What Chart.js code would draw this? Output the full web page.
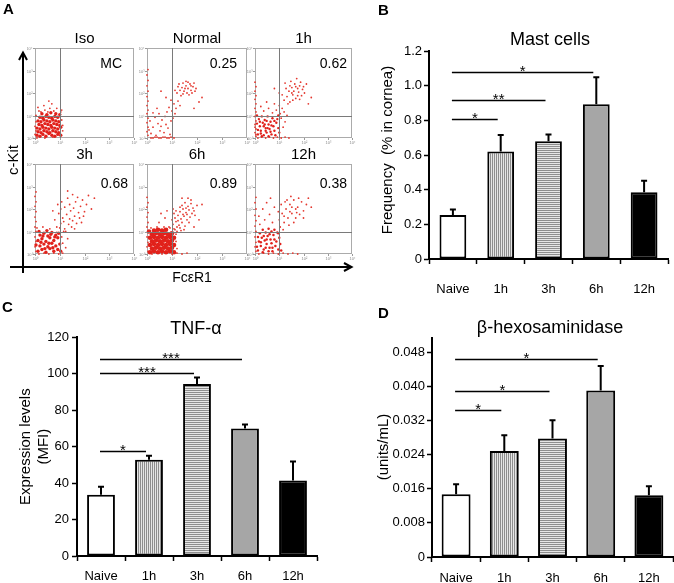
<!DOCTYPE html>
<html>
<head>
<meta charset="utf-8">
<title>Mast cells figure</title>
<script src="https://cdn.jsdelivr.net/npm/chart.js@4.4.1/dist/chart.umd.min.js"></script>
<style>
html,body{margin:0;padding:0;background:#fff;}
#fig{position:relative;width:674px;height:583px;overflow:hidden;background:#fff;}
#fig canvas{position:absolute;}
</style>
</head>
<body>
<div id="fig"></div>
<script>
// ================= DATA =================
// Bar panels
const categories = ['Naive', '1h', '3h', '6h', '12h'];

const mastTitle = 'Mast cells';
const mastYTitle = ['Frequency  (% in cornea)'];
const mastValues = [0.254, 0.62, 0.68, 0.893, 0.385];
const mastErrors = [0.285, 0.715, 0.718, 1.048, 0.452];
const mastTicks = [0, 0.2, 0.4, 0.6, 0.8, 1.0, 1.2];
const mastSig = [[0, 1, 0.81, '*'], [0, 2, 0.915, '**'], [0, 3, 1.08, '*']];

const tnfTitle = 'TNF-α';
const tnfYTitle = ['Expression levels', '(MFI)'];
const tnfValues = [33.6, 52.8, 94.3, 69.8, 41.4];
const tnfErrors = [38.0, 54.9, 97.8, 72.0, 51.8];
const tnfTicks = [0, 20, 40, 60, 80, 100, 120];
const tnfSig = [[0, 1, 57.8, '*'], [0, 2, 100.2, '***'], [0, 3, 107.9, '***']];

const hexTitle = 'β-hexosaminidase';
const hexYTitle = ['(units/mL)'];
const hexValues = [0.0147, 0.0249, 0.0278, 0.0391, 0.0145];
const hexErrors = [0.0171, 0.0286, 0.0321, 0.0448, 0.0166];
const hexTicks = [0, 0.008, 0.016, 0.024, 0.032, 0.040, 0.048];
const hexSig = [[0, 1, 0.0346, '*'], [0, 2, 0.0390, '*'], [0, 3, 0.0465, '*']];

// Flow cytometry panels (FcεR1 vs c-Kit, log decades mapped to 0..100)
const flowTitles = ['Iso', 'Normal', '1h', '3h', '6h', '12h'];
const flowCorners = ['MC', '0.25', '0.62', '0.68', '0.89', '0.38'];
const flowTicks = [0, 25, 50, 75, 100];
const flowTickLabels = ['10⁰', '10¹', '10²', '10³', '10⁴'];
const flowGate = 25;
const axisLabelY = 'c-Kit';
const axisLabelX = 'FcεR1';
const panelLetters = ['A', 'B', 'C', 'D'];

const isoCore = [[2,3],[5,2],[8,4],[11,2],[14,5],[17,3],[20,2],[23,4],[26,3],[3,7],[6,6],[9,8],[12,7],[15,6],[18,8],[21,7],[24,6],[2,11],[5,10],[8,12],[11,11],[14,10],[17,12],[20,11],[23,10],[26,12],[4,15],[7,14],[10,16],[13,15],[16,14],[19,16],[22,15],[25,14],[3,19],[6,18],[9,20],[12,19],[15,18],[18,20],[21,19],[24,18],[5,23],[8,22],[11,24],[14,23],[17,22],[20,24],[23,23],[7,27],[12,26],[16,28],[21,27],[25,26]];
const isoDots = [[4,30],[10,31],[15,33],[19,30],[26,29],[27,20],[28,14],[1,18],[1,25],[1,8],[9,36],[14,41],[17,38],[27,31],[3,34],[22,33],[28,8],[13,29],[6,29],[0,4],[0,13],[2,0],[10,0],[18,1]];

const normalCore = [];
const normalDots = [[1,3],[0,7],[1,12],[0,17],[1,22],[0,27],[1,31],[0,36],[1,41],[0,46],[1,52],[0,58],[1,64],[0,70],[1,76],
  [4,0],[8,1],[12,0],[16,1],[20,0],[24,1],[27,0],[6,0],[14,0],[22,0],[10,1],[18,1],
  [4,5],[9,3],[13,8],[6,12],[17,6],[21,11],[11,16],[3,19],[15,20],[19,15],[8,23],[23,4],[14,13],[24,19],[6,28],[12,27],[18,24],[2,9],[10,33],[20,29],
  [22,34],[25,30],[27,38],[24,42],[29,33],[31,41],[28,27],[33,36],[26,22],
  [30,50],[33,53],[35,56],[37,52],[39,58],[41,55],[43,60],[36,61],[40,50],[44,53],[46,57],[34,47],[38,55],[42,48],[31,57],[47,61],[45,50],[32,60],[39,63],[49,55],[28,53],[36,49],[41,62],[44,58],[48,52],
  [52,40],[55,45],[47,33],[19,45],[14,52]];

const oneCore = [[3,4],[6,8],[9,3],[12,6],[15,10],[5,13],[8,17],[11,11],[14,15],[17,4],[20,8],[4,21],[7,2],[10,20],[13,24],[16,18],[19,13],[22,17],[18,22],[24,11],[2,16],[21,3],[6,5],[9,13],[12,19],[3,9],[16,7],[23,21],[25,6],[7,24],[11,8],[14,2],[20,19],[2,25],[17,14],[5,18],[24,25],[10,15],[13,11]];
const oneDots = [[1,2],[0,6],[1,10],[0,15],[1,19],[0,24],[1,29],[0,33],[1,38],[0,43],[1,47],[0,52],[1,57],[0,62],[1,4],[0,12],
  [3,0],[7,1],[11,0],[15,1],[19,0],[23,1],[27,0],[31,1],[35,0],
  [18,28],[22,31],[14,33],[26,27],[9,30],[20,38],[28,33],[12,40],[25,36],[30,29],[6,35],[27,22],[31,18],[29,12],[33,25],
  [30,42],[33,46],[36,40],[39,48],[42,44],[45,51],[48,47],[35,52],[38,56],[41,60],[44,55],[47,62],[50,57],[32,55],[37,63],[43,66],[46,43],[51,50],[34,38],[40,52],[28,48],[36,58],[44,47],[49,54],[39,42],[42,57],[31,61],[53,60],[46,58],[38,50],
  [58,45],[55,38],[25,50],[20,55]];

const threeCore = [[3,3],[7,5],[11,2],[15,6],[19,3],[23,5],[5,9],[9,11],[13,8],[17,12],[21,9],[3,15],[7,17],[11,14],[15,18],[19,15],[23,18],[5,21],[9,23],[13,20],[17,24],[21,21],[4,25],[12,26],[25,11],[1,10],[26,3],[10,6],[18,7],[6,13],[14,12],[20,19],[8,20],[16,22],[24,23]];
const threeDots = [[1,3],[0,8],[1,14],[0,19],[1,25],[0,30],[1,36],[0,41],[1,47],[0,53],[1,58],[0,64],[1,69],
  [4,0],[9,1],[14,0],[19,1],[24,0],[28,1],
  [28,12],[27,19],[29,25],[2,29],[8,30],[15,28],[25,29],[31,7],[33,17],
  [22,30],[26,34],[30,28],[34,33],[38,37],[28,40],[32,44],[36,48],[40,42],[44,46],[24,45],[30,52],[35,55],[41,58],[46,53],[27,58],[33,62],[38,66],[45,40],[50,47],[20,38],[29,36],[37,30],[42,34],[48,60],[52,55],[31,25],[39,51],[43,63],[26,50],[35,39],[47,35],[54,65],[23,55],[18,48],[40,28],[33,70],[49,42],[22,24],
  [60,62],[57,50]];

const sixCore = [[3,2],[7,3],[11,2],[15,3],[19,2],[23,3],[27,2],[5,6],[9,7],[13,6],[17,7],[21,6],[25,7],[3,10],[7,11],[11,10],[15,11],[19,10],[23,11],[27,10],[5,14],[9,15],[13,14],[17,15],[21,14],[25,15],[3,18],[7,19],[11,18],[15,19],[19,18],[23,19],[27,18],[5,22],[9,23],[13,22],[17,23],[21,22],[25,23],[7,26],[11,27],[15,26],[19,27],[2,25]];
const sixDots = [[1,3],[0,8],[1,13],[0,19],[1,24],[0,30],[1,35],[0,41],[1,46],[0,52],[1,57],[0,63],
  [5,0],[10,1],[15,0],[20,1],[25,0],[30,1],[35,0],[40,1],
  [29,14],[30,6],[29,22],[28,27],[4,29],[10,30],[17,30],[23,29],
  [24,24],[27,28],[30,25],[33,29],[26,33],[29,36],[32,32],[35,35],[38,31],[28,40],[31,43],[34,39],[37,42],[40,38],[33,47],[36,50],[39,46],[42,49],[45,45],[35,54],[38,57],[41,53],[44,56],[30,30],[34,26],[25,38],[40,44],[43,41],[46,51],[36,44],[31,37],[39,51],[27,45],[42,35],[37,27],[47,48],[33,52],[29,48],[44,60],[48,43],[22,30],[35,62],[26,50],[41,62],[50,54],
  [18,40],[14,45],[52,38],[55,55],[20,48],[12,35],[47,30]];

const twelveCore = [[3,4],[6,9],[9,5],[12,11],[15,7],[18,3],[21,9],[24,5],[4,14],[7,18],[10,15],[13,20],[16,16],[19,21],[22,14],[25,18],[5,23],[8,27],[11,24],[14,28],[17,25],[20,27],[23,24],[2,8],[8,2],[14,3],[11,7],[17,12],[20,16],[6,13],[26,11],[9,20],[15,22],[3,19],[12,16],[24,23],[18,7],[27,4]];
const twelveDots = [[1,3],[0,8],[1,13],[0,19],[1,25],[0,31],[1,37],[0,43],[1,50],[0,57],[1,63],
  [4,0],[9,1],[14,0],[19,1],[24,0],[29,1],[34,0],[39,1],[44,0],
  [5,33],[10,38],[15,44],[8,50],[18,35],[12,57],[4,42],[20,52],[16,62],
  [26,30],[30,35],[34,40],[38,45],[42,50],[28,45],[32,50],[36,55],[40,60],[44,52],[46,44],[50,48],[27,55],[33,60],[38,52],[42,40],[48,58],[53,55],[30,42],[36,47],[25,38],[40,35],[45,62],[35,32],[31,58],[50,40],[55,62],[29,27],[37,64],[43,46],
  [58,52],[24,47]];

// ================= SETUP =================
const FONT = '"Liberation Sans", Arial, Helvetica, sans-serif';
Chart.defaults.font.family = FONT;
Chart.defaults.color = '#000';

const fig = document.getElementById('fig');
function addCanvas(l, t, w, h) {
  const c = document.createElement('canvas');
  c.width = w; c.height = h;
  c.style.left = l + 'px'; c.style.top = t + 'px';
  c.style.width = w + 'px'; c.style.height = h + 'px';
  fig.appendChild(c);
  return c;
}

function stripePattern(vertical) {
  const c = document.createElement('canvas');
  c.width = 2; c.height = 2;
  const g = c.getContext('2d');
  g.fillStyle = '#e6e6e6'; g.fillRect(0, 0, 2, 2);
  g.fillStyle = '#8e8e8e';
  if (vertical) g.fillRect(0, 0, 1, 2); else g.fillRect(0, 0, 2, 1);
  return g.createPattern(c, 'repeat');
}
const barFills = ['#ffffff', stripePattern(true), stripePattern(false), '#a6a6a6', '#000000'];

// ---------- plugin: flow panel decorations ----------
const flowDecor = {
  id: 'flowDecor',
  beforeDatasetsDraw(chart, args, o) {
    const {ctx, chartArea: ca, scales: {x, y}} = chart;
    ctx.save();
    ctx.lineWidth = 1;
    ctx.strokeStyle = '#ababab';
    ctx.strokeRect(Math.round(ca.left) + 0.5, Math.round(ca.top) + 0.5, Math.round(ca.width) - 1, Math.round(ca.height) - 1);
    ctx.strokeStyle = '#9a9a9a';
    ctx.fillStyle = '#8a8a8a';
    ctx.font = '4px ' + FONT;
    flowTicks.forEach((v, k) => {
      const px = Math.round(x.getPixelForValue(v)) + 0.5;
      const py = Math.round(y.getPixelForValue(v)) + 0.5;
      ctx.beginPath();
      ctx.moveTo(px, ca.bottom); ctx.lineTo(px, ca.bottom + 2);
      ctx.moveTo(ca.left - 2, py); ctx.lineTo(ca.left, py);
      ctx.stroke();
      ctx.textAlign = 'center'; ctx.textBaseline = 'top';
      ctx.fillText(flowTickLabels[k], px, ca.bottom + 2.5);
      ctx.textAlign = 'right'; ctx.textBaseline = 'middle';
      ctx.fillText(flowTickLabels[k], ca.left - 2.5, py);
    });
    ctx.restore();
  },
  afterDatasetsDraw(chart, args, o) {
    const {ctx, chartArea: ca, scales: {x, y}} = chart;
    ctx.save();
    ctx.lineWidth = 1;
    ctx.strokeStyle = '#7a7a7a';
    const gx = Math.round(x.getPixelForValue(flowGate)) + 0.5;
    const gy = Math.round(y.getPixelForValue(flowGate)) + 0.5;
    ctx.beginPath();
    ctx.moveTo(gx, ca.top); ctx.lineTo(gx, ca.bottom);
    ctx.moveTo(ca.left, gy); ctx.lineTo(ca.right, gy);
    ctx.stroke();
    ctx.fillStyle = '#000';
    ctx.font = '14px ' + FONT;
    ctx.textAlign = 'right'; ctx.textBaseline = 'alphabetic';
    ctx.fillText(o.corner, ca.right - o.inset, ca.top + o.dy + 5);
    ctx.restore();
  }
};

// ---------- plugin: bar panel decorations ----------
const barDecor = {
  id: 'barDecor',
  afterDraw(chart, args, o) {
    const {ctx, scales: {x, y}} = chart;
    const meta = chart.getDatasetMeta(0);
    ctx.save();
    // error bars (upper whiskers)
    ctx.strokeStyle = '#000';
    ctx.lineWidth = 2;
    o.errors.forEach((e, i) => {
      const bx = meta.data[i].x;
      const top = y.getPixelForValue(o.values[i]);
      const et = y.getPixelForValue(e);
      ctx.beginPath();
      ctx.moveTo(bx, top); ctx.lineTo(bx, et);
      ctx.moveTo(bx - 3, et); ctx.lineTo(bx + 3, et);
      ctx.stroke();
    });
    // significance lines
    ctx.lineWidth = 1.3;
    ctx.fillStyle = '#000';
    ctx.font = '15px ' + FONT;
    ctx.textAlign = 'center'; ctx.textBaseline = 'alphabetic';
    o.sig.forEach(([a, b, v, lab]) => {
      const x1 = x.getPixelForValue(a) - 1;
      const x2 = x.getPixelForValue(b) - 3;
      const yy = Math.round(y.getPixelForValue(v)) + 0.5;
      ctx.beginPath(); ctx.moveTo(x1, yy); ctx.lineTo(x2, yy); ctx.stroke();
      ctx.fillText(lab, (x1 + x2) / 2, yy + 3.5);
    });
    // title
    ctx.font = '18px ' + FONT;
    ctx.fillText(o.title, o.titleX, o.titleY + 6.5);
    // y axis title
    ctx.font = '15px ' + FONT;
    o.yTitle.forEach((t, k) => {
      ctx.save();
      ctx.translate(o.yTitleX[k], o.yTitleY);
      ctx.rotate(-Math.PI / 2);
      ctx.fillText(t, 0, 5.4);
      ctx.restore();
    });
    ctx.restore();
  }
};

// ================= FLOW PANELS =================
const flowData = [
  [isoCore, isoDots], [normalCore, normalDots], [oneCore, oneDots],
  [threeCore, threeDots], [sixCore, sixDots], [twelveCore, twelveDots]
];
const flowLayout = [
  {l: 35, t: 48, r: 134, b: 138, coreR: 1.7, dy: 15, inset: 12},
  {l: 147, t: 48, r: 247, b: 138, coreR: 1.2, dy: 15, inset: 10},
  {l: 255, t: 48, r: 352, b: 138, coreR: 1.2, dy: 15, inset: 5},
  {l: 35, t: 164, r: 134, b: 254, coreR: 1.7, dy: 18.5, inset: 6},
  {l: 147, t: 164, r: 247, b: 254, coreR: 2.3, dy: 18.5, inset: 10},
  {l: 255, t: 164, r: 352, b: 254, coreR: 1.25, dy: 18.5, inset: 5}
];
const toXY = arr => arr.map(([x, y]) => ({x, y}));

flowData.forEach(([core, dots], i) => {
  const b = flowLayout[i];
  const w = b.r - b.l, h = b.b - b.t;
  const cv = addCanvas(b.l - 8, b.t - 22, w + 12, h + 30);
  new Chart(cv, {
    type: 'scatter',
    data: {
      datasets: [
        {data: toXY(core), pointRadius: b.coreR, pointHoverRadius: b.coreR, pointBackgroundColor: '#e1211b', pointBorderWidth: 0, clip: false},
        {data: toXY(dots), pointRadius: 0.9, pointHoverRadius: 0.9, pointBackgroundColor: '#e4382f', pointBorderWidth: 0, clip: false}
      ]
    },
    options: {
      responsive: false, devicePixelRatio: 1, animation: false, events: [],
      layout: {padding: {left: 8, right: 4, top: 0, bottom: 8}},
      plugins: {
        legend: {display: false}, tooltip: {enabled: false},
        title: {display: true, text: flowTitles[i], color: '#000', font: {size: 15, weight: 'normal'}, padding: {top: 4, bottom: 0}},
        flowDecor: {corner: flowCorners[i], dy: b.dy, inset: b.inset}
      },
      scales: {
        x: {type: 'linear', min: 0, max: 100, display: false},
        y: {type: 'linear', min: 0, max: 100, display: false}
      }
    },
    plugins: [flowDecor]
  });
});

// ================= BAR PANELS =================
const barPanels = [
  {pos: [340, 0, 334, 300], pad: {top: 51, right: 6, bottom: 0, left: 0}, yW: 89, xH: 41, xPad: 18, yPad: 2, barPct: 0.56,
   max: 1.2, ticks: mastTicks, fmt: v => (v === 0 ? '0' : v.toFixed(1)),
   values: mastValues, errors: mastErrors, sig: mastSig, title: mastTitle, titleX: 210, titleY: 38,
   yTitle: mastYTitle, yTitleX: [47], yTitleY: 150},
  {pos: [0, 290, 340, 293], pad: {top: 47, right: 23, bottom: 0, left: 0}, yW: 77, xH: 27, xPad: 8, yPad: 3, barPct: 0.58,
   max: 120, ticks: tnfTicks, fmt: v => String(v),
   values: tnfValues, errors: tnfErrors, sig: tnfSig, title: tnfTitle, titleX: 196, titleY: 37.7,
   yTitle: tnfYTitle, yTitleX: [25, 43], yTitleY: 156.7},
  {pos: [340, 290, 334, 293], pad: {top: 48, right: 1, bottom: 0, left: 0}, yW: 92, xH: 26, xPad: 9, yPad: 2, barPct: 0.6,
   max: 0.0514, ticks: hexTicks, fmt: v => (v === 0 ? '0' : v.toFixed(3)),
   values: hexValues, errors: hexErrors, sig: hexSig, title: hexTitle, titleX: 210, titleY: 36.7,
   yTitle: hexYTitle, yTitleX: [43], yTitleY: 157}
];

barPanels.forEach(p => {
  const cv = addCanvas(p.pos[0], p.pos[1], p.pos[2], p.pos[3]);
  new Chart(cv, {
    type: 'bar',
    data: {
      labels: categories,
      datasets: [{
        data: p.values, backgroundColor: barFills, borderColor: '#000', borderWidth: 2, borderSkipped: false,
        barPercentage: p.barPct, categoryPercentage: 1
      }]
    },
    options: {
      responsive: false, devicePixelRatio: 1, animation: false, events: [],
      layout: {padding: p.pad},
      plugins: {
        legend: {display: false}, tooltip: {enabled: false}, title: {display: false},
        barDecor: {values: p.values, errors: p.errors, sig: p.sig, title: p.title, titleX: p.titleX, titleY: p.titleY,
                   yTitle: p.yTitle, yTitleX: p.yTitleX, yTitleY: p.yTitleY}
      },
      scales: {
        x: {
          grid: {display: true, drawOnChartArea: false, drawTicks: true, tickLength: 5, tickWidth: 1.5, color: '#000', offset: true},
          border: {display: true, color: '#000', width: 2},
          ticks: {font: {size: 13}, color: '#000', padding: p.xPad, maxRotation: 0, autoSkip: false},
          afterFit: s => { s.height = p.xH; }
        },
        y: {
          min: 0, max: p.max,
          grid: {display: true, drawOnChartArea: false, drawTicks: true, tickLength: 5, tickWidth: 1.5, color: '#000'},
          border: {display: true, color: '#000', width: 2},
          ticks: {font: {size: 13}, color: '#000', padding: p.yPad, callback: v => p.fmt(v)},
          afterBuildTicks: s => { s.ticks = p.ticks.map(v => ({value: v})); },
          afterFit: s => { s.width = p.yW; }
        }
      }
    },
    plugins: [barDecor]
  });
});

// ================= OVERLAY: axis arrows & panel letters =================
const ov = addCanvas(0, 0, 674, 583);
ov.style.pointerEvents = 'none';
const g = ov.getContext('2d');
g.strokeStyle = '#000';
g.lineWidth = 2;
g.beginPath(); g.moveTo(23, 273); g.lineTo(23, 53); g.stroke();
g.beginPath(); g.moveTo(19, 60); g.lineTo(23, 52.5); g.lineTo(27, 60); g.stroke();
g.beginPath(); g.moveTo(10, 267); g.lineTo(351, 267); g.stroke();
g.beginPath(); g.moveTo(344, 263); g.lineTo(351.5, 267); g.lineTo(344, 271); g.stroke();

g.fillStyle = '#000';
g.textBaseline = 'alphabetic';
g.textAlign = 'center';
g.font = '14px ' + FONT;
g.fillText(axisLabelX, 192, 282);
g.save();
g.translate(13, 160);
g.rotate(-Math.PI / 2);
g.font = '15px ' + FONT;
g.fillText(axisLabelY, 0, 5.4);
g.restore();

g.textAlign = 'left';
g.font = 'bold 15px ' + FONT;
const letterPos = [[3, 13.7], [378, 15.4], [2, 312.1], [378, 317.9]];
panelLetters.forEach((L, k) => g.fillText(L, letterPos[k][0], letterPos[k][1]));
</script>
</body>
</html>
